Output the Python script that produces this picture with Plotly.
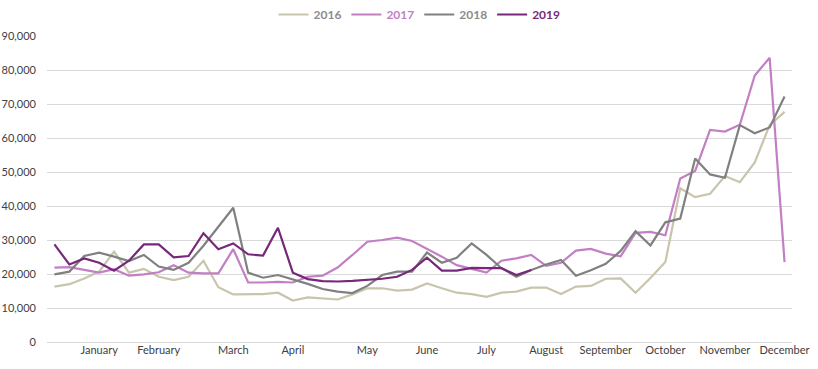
import plotly.graph_objects as go

weeks = list(range(50))

sales_2016 = [16.3, 17.0, 18.7, 20.7, 26.6, 20.4, 21.5, 19.2, 18.2, 19.2,
              23.9, 16.1, 14.0, 14.1, 14.1, 14.5, 12.2, 13.1, 12.8, 12.5,
              14.0, 15.8, 15.8, 15.1, 15.4, 17.2, 15.8, 14.5, 14.1, 13.3,
              14.5, 14.8, 16.0, 16.0, 14.1, 16.3, 16.5, 18.6, 18.7, 14.5,
              18.8, 23.5, 45.2, 42.6, 43.6, 48.8, 47.0, 52.8, 63.8, 67.7]
sales_2017 = [21.9, 22.0, 21.2, 20.4, 21.4, 19.5, 19.9, 20.5, 22.6, 20.4,
              20.2, 20.2, 27.3, 17.5, 17.5, 17.7, 17.5, 19.2, 19.5, 21.9,
              25.6, 29.5, 30.0, 30.7, 29.7, 27.5, 25.1, 22.6, 21.4, 20.4,
              23.9, 24.6, 25.6, 22.4, 23.3, 26.9, 27.4, 26.0, 25.2, 32.1,
              32.4, 31.4, 48.1, 50.3, 62.4, 61.9, 63.9, 78.4, 83.6, 23.5]
sales_2018 = [19.9, 20.7, 25.3, 26.3, 25.1, 23.8, 25.6, 22.2, 21.2, 23.3,
              28.3, 33.9, 39.5, 20.4, 18.9, 19.7, 18.5, 17.1, 15.6, 14.8,
              14.4, 16.5, 19.7, 20.7, 20.7, 26.3, 23.3, 24.8, 29.0, 25.6,
              21.7, 19.2, 21.2, 22.8, 24.1, 19.5, 21.1, 23.0, 26.8, 32.6,
              28.4, 35.2, 36.3, 54.0, 49.3, 48.3, 63.8, 61.4, 63.1, 72.2]
sales_2019 = [28.7, 22.8, 24.6, 23.3, 21.0, 23.9, 28.7, 28.7, 24.9, 25.3,
              32.0, 27.3, 29.0, 25.8, 25.4, 33.6, 20.4, 18.5, 17.9, 17.8,
              18.0, 18.3, 18.6, 19.2, 21.2, 24.8, 21.0, 21.0, 21.8, 21.7,
              21.7, 19.7, 21.2]

month_pos = [3, 7, 12, 16, 21, 25, 29, 33, 37, 41, 45, 49]
month_labels = ["January", "February", "March", "April", "May", "June", "July",
                "August", "September", "October", "November", "December"]

series = [
    ("2016", sales_2016, "#C8C5AC", "#8C8C8C"),
    ("2017", sales_2017, "#C27FC4", "#C27FC4"),
    ("2018", sales_2018, "#808080", "#8C8C8C"),
    ("2019", sales_2019, "#77287A", "#77287A"),
]

fig = go.Figure()
for name, vals, col, tcol in series:
    fig.add_trace(go.Scatter(
        x=weeks[:len(vals)], y=[v * 1000 for v in vals], mode="lines",
        name=f"<b><span style='color:{tcol}'>{name}</span></b>",
        line=dict(color=col, width=2.2),
    ))

fig.update_layout(
    width=818, height=369,
    margin=dict(l=47, r=26, t=36, b=27, autoexpand=False),
    paper_bgcolor="white", plot_bgcolor="white",
    font=dict(family="Lato, Open Sans, sans-serif", size=11, color="#404040"),
    showlegend=True,
    legend=dict(orientation="h", x=0.5, xanchor="center", y=1.0, yanchor="top",
                yref="container", itemwidth=30, font=dict(size=12),
                tracegroupgap=0, itemclick=False),
    xaxis=dict(range=[-0.5, 49.5], tickmode="array", tickvals=month_pos,
               ticktext=month_labels, showgrid=False, zeroline=False,
               showline=False, ticks="", tickfont=dict(size=11, color="#404040")),
    yaxis=dict(range=[0, 90000], dtick=10000, tickformat=",", showgrid=True,
               gridcolor="#D9D9D9", gridwidth=1, zeroline=True, zerolinecolor="#D9D9D9",
               zerolinewidth=1, showline=False,
               ticks="", ticklabelstandoff=10, tickfont=dict(size=11, color="#404040")),
)

fig.write_html("out.html")
